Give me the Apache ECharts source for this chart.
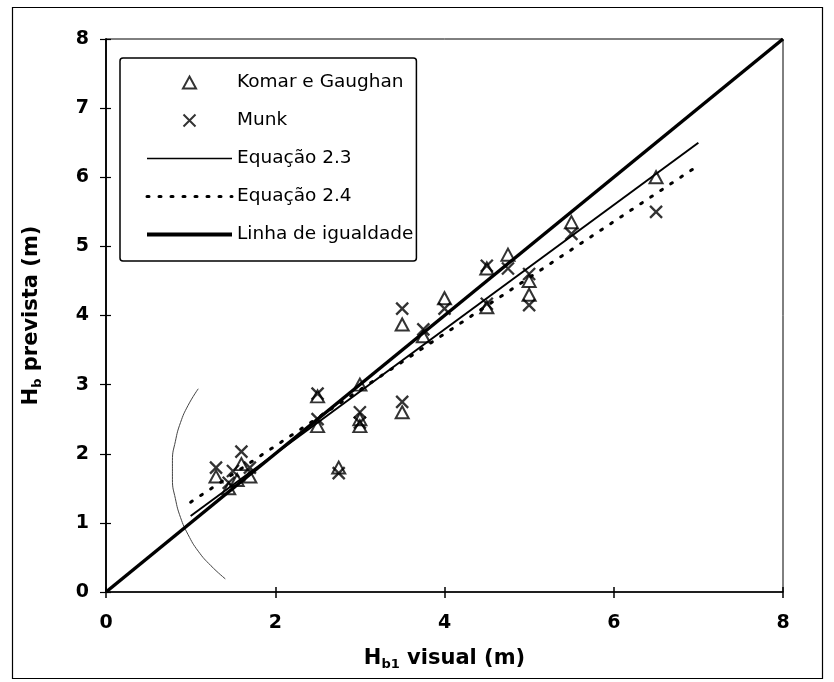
<!DOCTYPE html>
<html>
<head>
<meta charset="utf-8">
<script src="https://cdn.jsdelivr.net/npm/echarts@6/dist/echarts.min.js"></script>
<style>
html,body{margin:0;padding:0;background:#fff;}
#chart{width:834px;height:682px;}
</style>
</head>
<body>
<div id="chart"></div>
<script>
// ---- data ----
var xTicks = [0, 2, 4, 6, 8];
var yTicks = [0, 1, 2, 3, 4, 5, 6, 7, 8];

var komarX = [1.3, 1.45, 1.55, 1.6, 1.7, 2.5, 2.5, 2.75, 3.0, 3.0, 3.0, 3.5, 3.5, 3.75, 4.0, 4.5, 4.5, 4.75, 5.0, 5.0, 5.5, 6.5];
var komarY = [1.67, 1.5, 1.62, 1.85, 1.67, 2.4, 2.83, 1.8, 2.4, 2.5, 3.0, 2.6, 3.87, 3.7, 4.25, 4.12, 4.68, 4.88, 4.3, 4.5, 5.35, 6.0];

var munkX = [1.3, 1.45, 1.5, 1.6, 1.7, 2.5, 2.5, 2.75, 3.0, 3.0, 3.5, 3.5, 3.75, 4.0, 4.5, 4.5, 4.75, 5.0, 5.0, 5.5, 6.5];
var munkY = [1.8, 1.58, 1.75, 2.03, 1.8, 2.5, 2.87, 1.72, 2.45, 2.6, 2.75, 4.1, 3.8, 4.1, 4.17, 4.72, 4.68, 4.15, 4.6, 5.18, 5.5];

var eq23X = [1.0, 7.0];
var eq23Y = [1.1, 6.5];
var eq24X = [1.0, 7.0];
var eq24Y = [1.3, 6.17];
var igualX = [0, 8];
var igualY = [0, 8];

// hand-drawn arc visible on the scanned figure
var arcX = [1.09, 0.97, 0.88, 0.82, 0.785, 0.785, 0.82, 0.88, 0.97, 1.09, 1.24, 1.41];
var arcY = [2.94, 2.70, 2.45, 2.18, 1.90, 1.63, 1.35, 1.08, 0.83, 0.59, 0.38, 0.19];

var seriesNames = ['Komar e Gaughan', 'Munk', 'Equação 2.3', 'Equação 2.4', 'Linha de igualdade'];
var xTitle = ['H', 'b1', ' visual (m)'];
var yTitle = ['H', 'b', ' prevista (m)'];

function pairs(xs, ys) { return xs.map(function (x, i) { return [x, ys[i]]; }); }

var chart = echarts.init(document.getElementById('chart'), null, {renderer: 'canvas'});
var FONT = 'DejaVu Sans';
var titleRich = {
  h: {fontFamily: FONT, fontWeight: 'bold', fontSize: 21, lineHeight: 25, color: '#000'},
  s: {fontFamily: FONT, fontWeight: 'bold', fontSize: 13, lineHeight: 13, verticalAlign: 'bottom', color: '#000'}
};
var xPath = 'path://M0,0L10,10M10,0L0,10';
var triPath = 'path://M6,0L12,11L0,11Z';
var noDot = {color: 'rgba(0,0,0,0)', borderWidth: 0, opacity: 0};

var option = {
  animation: false,
  backgroundColor: '#fff',
  graphic: [{
    type: 'rect', silent: true,
    shape: {x: 12.5, y: 7.5, width: 810, height: 671},
    style: {fill: 'none', stroke: '#000', lineWidth: 1.2}
  }],
  grid: {left: 106, right: 51, top: 39, bottom: 90, show: true, borderColor: '#000', borderWidth: 1, backgroundColor: 'transparent'},
  legend: {
    data: [
      {name: seriesNames[0]},
      {name: seriesNames[1]},
      {name: seriesNames[2], itemStyle: noDot, lineStyle: {width: 1.5, color: '#000'}},
      {name: seriesNames[3], itemStyle: noDot, lineStyle: {width: 3, color: '#000', type: [2, 10], cap: 'round'}},
      {name: seriesNames[4], itemStyle: noDot, lineStyle: {width: 4, color: '#000'}}
    ],
    orient: 'vertical',
    left: 120, top: 58,
    padding: [15, 3, 17, 25],
    itemWidth: 85, itemHeight: 12, itemGap: 19,
    borderColor: '#000', borderWidth: 1.5, borderRadius: 3,
    backgroundColor: '#fff',
    textStyle: {fontFamily: FONT, fontSize: 18.5, color: '#000'},
    selectedMode: false
  },
  xAxis: [{
    type: 'value', min: 0, max: 8, interval: 2,
    axisLine: {show: true, onZero: false, lineStyle: {color: '#000', width: 1.5}},
    axisTick: {show: true, inside: false, length: 6, lineStyle: {color: '#000', width: 1.5}},
    splitLine: {show: false},
    axisLabel: {color: '#000', fontFamily: FONT, fontWeight: 'bold', fontSize: 19, margin: 22,
      formatter: function (v) { return xTicks.indexOf(v) >= 0 ? String(v) : ''; }},
    name: '{h|' + xTitle[0] + '}{s|' + xTitle[1] + '}{h|' + xTitle[2] + '}',
    nameLocation: 'middle', nameGap: 54,
    nameTextStyle: {rich: titleRich}
  }, {
    type: 'value', min: 0, max: 8, interval: 2, position: 'bottom',
    axisLine: {show: false}, axisLabel: {show: false}, splitLine: {show: false},
    axisTick: {show: true, inside: true, length: 5, lineStyle: {color: '#000', width: 1.5}}
  }],
  yAxis: [{
    type: 'value', min: 0, max: 8, interval: 1,
    axisLine: {show: true, onZero: false, lineStyle: {color: '#000', width: 1.8}},
    axisTick: {show: true, inside: false, length: 6, lineStyle: {color: '#000', width: 1.2}},
    splitLine: {show: false},
    axisLabel: {color: '#000', fontFamily: FONT, fontWeight: 'bold', fontSize: 19, margin: 17,
      formatter: function (v) { return yTicks.indexOf(v) >= 0 ? String(v) : ''; }},
    name: '{h|' + yTitle[0] + '}{s|' + yTitle[1] + '}{h|' + yTitle[2] + '}',
    nameLocation: 'middle', nameGap: 62, nameRotate: 90,
    nameTextStyle: {rich: titleRich}
  }, {
    type: 'value', min: 0, max: 8, interval: 1, position: 'left',
    axisLine: {show: false}, axisLabel: {show: false}, splitLine: {show: false},
    axisTick: {show: true, inside: true, length: 5, lineStyle: {color: '#000', width: 1.2}}
  }],
  series: [{
    name: 'arc', type: 'line', smooth: true, silent: true, showSymbol: false, symbol: 'none',
    data: pairs(arcX, arcY),
    lineStyle: {color: '#444', width: 1}, z: 1
  }, {
    name: seriesNames[4], type: 'line', symbol: 'none',
    data: pairs(igualX, igualY),
    itemStyle: {color: '#000'},
    lineStyle: {color: '#000', width: 3.5}, z: 3
  }, {
    name: seriesNames[2], type: 'line', symbol: 'none',
    data: pairs(eq23X, eq23Y),
    itemStyle: {color: '#000'},
    lineStyle: {color: '#000', width: 2}, z: 3
  }, {
    name: seriesNames[3], type: 'line', symbol: 'none',
    data: pairs(eq24X, eq24Y),
    itemStyle: {color: '#000'},
    lineStyle: {color: '#000', width: 3, type: [2, 10], cap: 'round'}, z: 3
  }, {
    name: seriesNames[0], type: 'scatter', symbol: triPath, symbolSize: [13, 12],
    data: pairs(komarX, komarY),
    itemStyle: {color: 'rgba(255,255,255,0)', borderColor: '#000', borderWidth: 2}, z: 4
  }, {
    name: seriesNames[1], type: 'scatter', symbol: xPath, symbolSize: 12,
    data: pairs(munkX, munkY),
    itemStyle: {color: 'rgba(255,255,255,0)', borderColor: '#000', borderWidth: 2.3}, z: 5
  }]
};
chart.setOption(option);
</script>
</body>
</html>
